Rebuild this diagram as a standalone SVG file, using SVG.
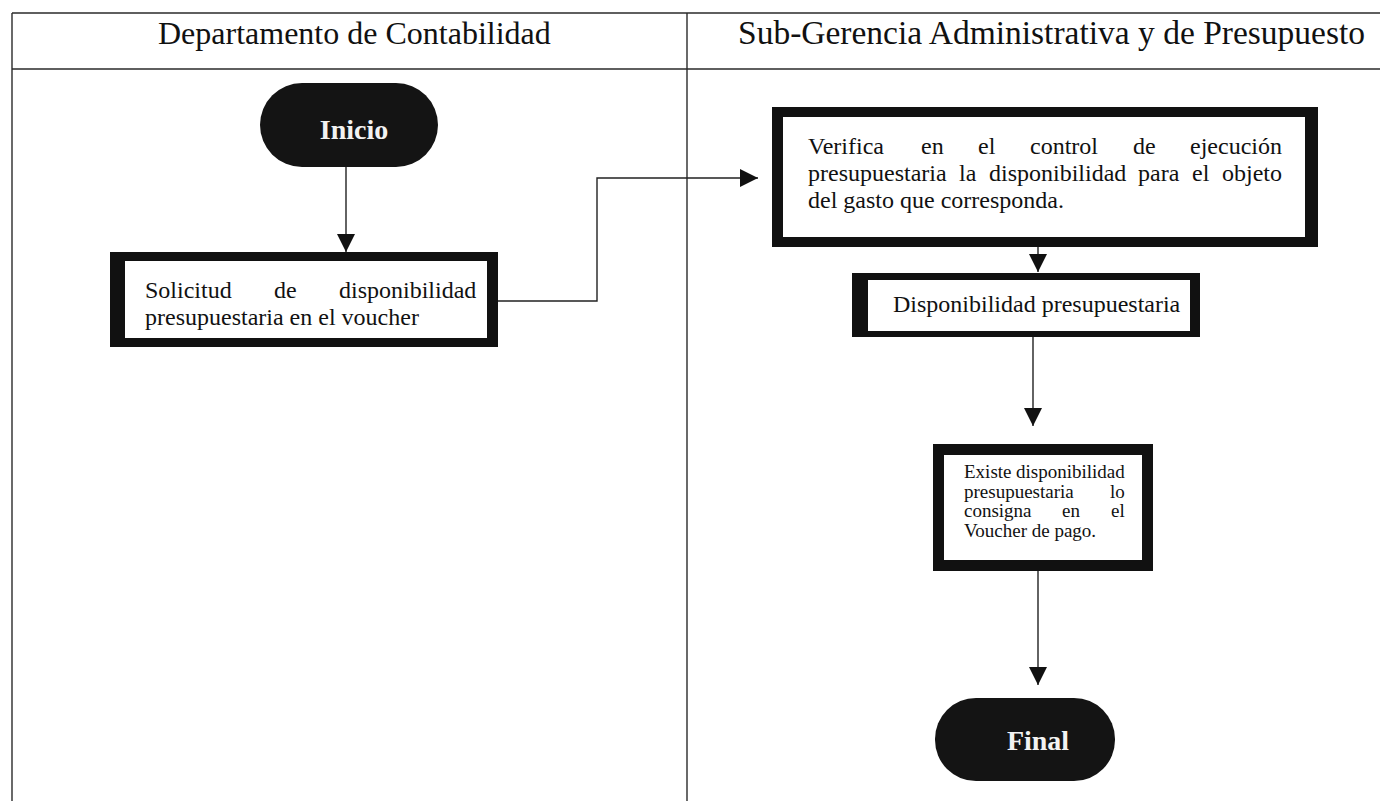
<svg xmlns="http://www.w3.org/2000/svg" width="1380" height="801" viewBox="0 0 1380 801">
  <style>
    .grid { stroke: #2a2a2a; stroke-width: 1.4; fill: none; }
    .hdr { font-family: "Liberation Serif", "Times New Roman", serif; font-size: 32px; fill: #111; }
    .frame { fill: #111; }
    .inner { fill: #ffffff; }
    .txt { font-family: "Liberation Serif", "Times New Roman", serif; font-size: 24px; fill: #111; }
    .small { font-family: "Liberation Serif", "Times New Roman", serif; font-size: 19px; fill: #111; }
    .pill { fill: #141414; }
    .pilltxt { font-family: "Liberation Serif", "Times New Roman", serif; font-size: 28px; font-weight: bold; fill: #f2f2f2; text-anchor: middle; }
    .conn { stroke: #222; stroke-width: 1.4; fill: none; }
  </style>
  <defs>
    <marker id="arrow" markerUnits="userSpaceOnUse" markerWidth="18" markerHeight="18" viewBox="0 0 16 16" refX="16" refY="8" orient="auto">
      <path d="M0,0 L16,8 L0,16 Z" fill="#111"/>
    </marker>
  </defs>
  <rect width="1380" height="801" fill="#ffffff"/>

  <!-- swimlane table -->
  <g id="lanes">
    <line class="grid" x1="12" y1="13" x2="1380" y2="13"/>
    <line class="grid" x1="12" y1="69" x2="1380" y2="69"/>
    <line class="grid" x1="12" y1="13" x2="12" y2="801"/>
    <line class="grid" x1="687" y1="13" x2="687" y2="801"/>
    <text class="hdr" x="158" y="44">Departamento de Contabilidad</text>
    <text class="hdr" x="738" y="44" style="font-size:33.5px">Sub-Gerencia Administrativa y de Presupuesto</text>
  </g>

  <!-- connectors -->
  <g id="connectors">
    <line class="conn" x1="346" y1="166" x2="346" y2="252" marker-end="url(#arrow)"/>
    <polyline class="conn" points="498,301 597,301 597,178 758,178" marker-end="url(#arrow)"/>
    <line class="conn" x1="1038" y1="247" x2="1038" y2="272" marker-end="url(#arrow)"/>
    <line class="conn" x1="1033" y1="337" x2="1033" y2="426" marker-end="url(#arrow)"/>
    <line class="conn" x1="1038" y1="571" x2="1038" y2="685" marker-end="url(#arrow)"/>
  </g>

  <!-- start terminal -->
  <g id="inicio">
    <rect class="pill" x="260" y="83" width="178" height="84" rx="42" ry="42"/>
    <text class="pilltxt" x="354" y="139">Inicio</text>
  </g>

  <!-- request step -->
  <g id="solicitud">
    <rect class="frame" x="110" y="252" width="388" height="95"/>
    <rect class="inner" x="125" y="261" width="362" height="77"/>
    <text class="txt" y="298"><tspan x="145">Solicitud</tspan><tspan x="274">de</tspan><tspan x="339">disponibilidad</tspan></text>
    <text class="txt" x="145" y="325">presupuestaria en el voucher</text>
  </g>

  <!-- verification step -->
  <g id="verifica">
    <rect class="frame" x="772" y="107" width="546" height="140"/>
    <rect class="inner" x="783" y="117" width="522" height="120"/>
    <text class="txt" y="154"><tspan x="808">Verifica</tspan><tspan x="921">en</tspan><tspan x="978">el</tspan><tspan x="1030">control</tspan><tspan x="1133">de</tspan><tspan x="1190">ejecución</tspan></text>
    <text class="txt" y="181"><tspan x="808">presupuestaria</tspan><tspan x="959">la</tspan><tspan x="989">disponibilidad</tspan><tspan x="1138">para</tspan><tspan x="1192">el</tspan><tspan x="1222">objeto</tspan></text>
    <text class="txt" x="808" y="208">del gasto que corresponda.</text>
  </g>

  <!-- availability step -->
  <g id="disponibilidad">
    <rect class="frame" x="852" y="273" width="348" height="64"/>
    <rect class="inner" x="868" y="280" width="322" height="51"/>
    <text class="txt" x="893" y="312">Disponibilidad presupuestaria</text>
  </g>

  <!-- record step -->
  <g id="existe">
    <rect class="frame" x="933" y="444" width="220" height="127"/>
    <rect class="inner" x="944" y="455" width="198" height="105"/>
    <text class="small" y="478"><tspan x="964">Existe</tspan><tspan x="1016">disponibilidad</tspan></text>
    <text class="small" y="497.5"><tspan x="964">presupuestaria</tspan><tspan x="1110">lo</tspan></text>
    <text class="small" y="517"><tspan x="964">consigna</tspan><tspan x="1062">en</tspan><tspan x="1111">el</tspan></text>
    <text class="small" x="964" y="536.5">Voucher de pago.</text>
  </g>

  <!-- end terminal -->
  <g id="final">
    <rect class="pill" x="935" y="698" width="180" height="83" rx="41" ry="41"/>
    <text class="pilltxt" x="1038" y="750">Final</text>
  </g>
</svg>
